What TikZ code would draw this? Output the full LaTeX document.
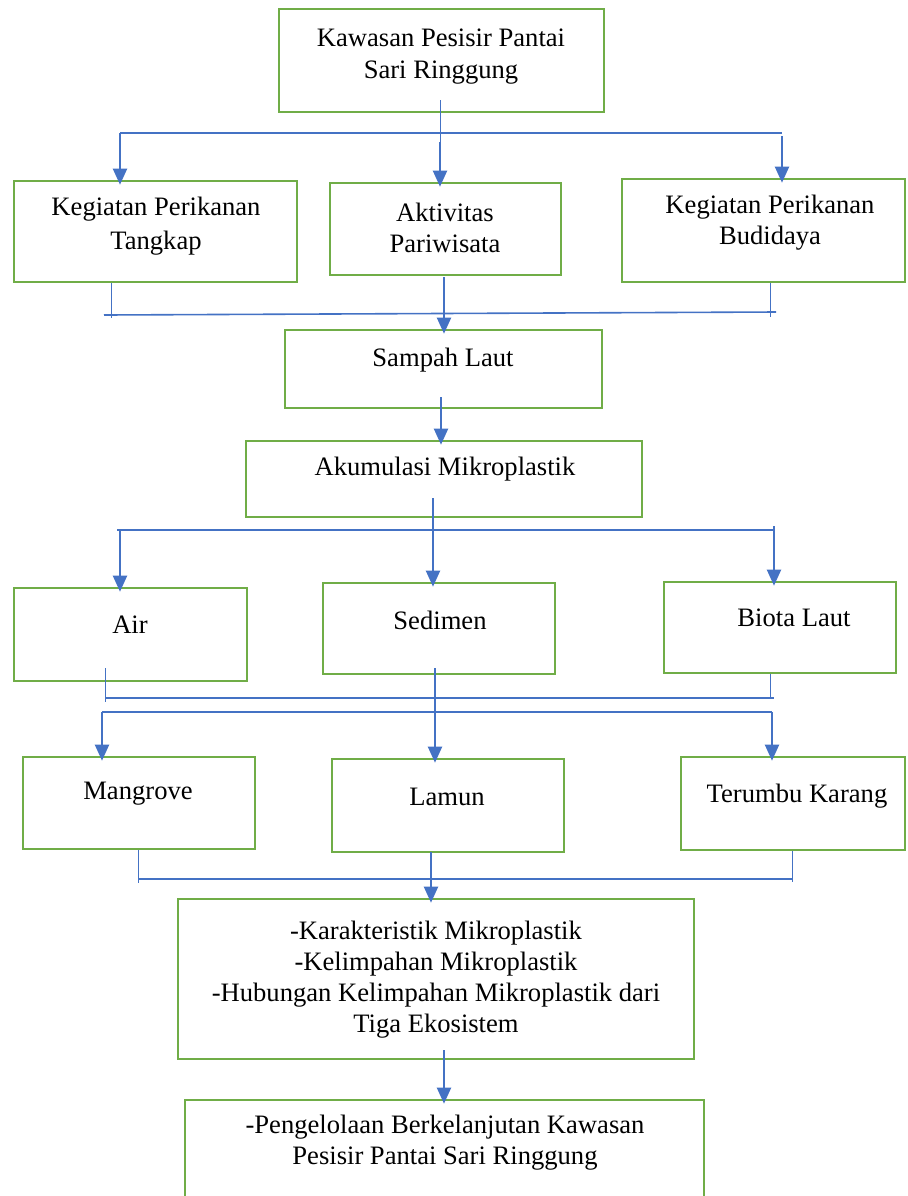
\documentclass[tikz,border=0pt]{standalone}
\usepackage{fontspec}
\setmainfont{Liberation Serif}
\usetikzlibrary{arrows.meta,fit}
\definecolor{boxgreen}{HTML}{70AD47}
\definecolor{lineblue}{HTML}{4472C4}
\newcommand\mybox[5]{\coordinate (#1-tl) at (#2,#3); \coordinate (#1-br) at (#4,#5); \node[box,fit=(#1-tl)(#1-br)] (#1) {};}
\begin{document}
\begin{tikzpicture}[x=0.5pt,y=-0.5pt,
  box/.style={draw=boxgreen,line width=1.3pt,inner sep=0pt},
  txt/.style={font=\fontsize{13.3}{15.5}\selectfont,align=center,inner sep=0pt},
  thinl/.style={draw=lineblue,line width=0.5pt},
  midl/.style={draw=lineblue,line width=0.8pt},
  arr/.style={draw=lineblue,line width=1pt,-{Triangle[width=7pt,length=8pt]},shorten >=-2.5pt}]
\useasboundingbox (0,0) rectangle (907,1196);
\clip (0,0) rectangle (907,1196);
% boxes
\mybox{top}{279}{9}{604}{112}
\mybox{tangkap}{14}{181}{297}{282}
\mybox{aktiv}{330}{183}{561}{275}
\mybox{budi}{622}{179}{905}{282}
\mybox{sampah}{285}{330}{602}{408}
\mybox{akum}{246}{441}{642}{517}
\mybox{air}{14}{588}{247}{681}
\mybox{sedimen}{323}{583}{555}{674}
\mybox{biota}{664}{582}{896}{673}
\mybox{mangrove}{23}{757}{255}{849}
\mybox{lamun}{332}{759}{564}{852}
\mybox{terumbu}{681}{757}{905}{850}
\mybox{karak}{178}{899}{694}{1059}
\mybox{kelola}{185}{1100}{704}{1215}
% texts
\node[txt,font=\fontsize{13.3}{16}\selectfont] (ttop) at (441,57) {Kawasan Pesisir Pantai\\Sari Ringgung};
\node[txt,font=\fontsize{13.3}{17}\selectfont] (ttangkap) at (156,226) {Kegiatan Perikanan\\Tangkap};
\node[txt] (taktiv) at (445,228) {Aktivitas\\Pariwisata};
\node[txt] (tbudi) at (770,223) {Kegiatan Perikanan\\Budidaya};
\node[txt] (tsampah) at (443,360) {Sampah Laut};
\node[txt] (takum) at (445,469) {Akumulasi Mikroplastik};
\node[txt] (tair) at (130,625) {Air};
\node[txt] (tsedimen) at (440,620) {Sedimen};
\node[txt] (tbiota) at (794,618) {Biota Laut};
\node[txt] (tmangrove) at (138,794) {Mangrove};
\node[txt] (tlamun) at (447,797) {Lamun};
\node[txt] (tterumbu) at (797,796) {Terumbu Karang};
\node[txt] (tkarak) at (436,980) {-Karakteristik Mikroplastik\\-Kelimpahan Mikroplastik\\-Hubungan Kelimpahan Mikroplastik dari\\Tiga Ekosistem};
\node[txt] (tkelola) at (445,1143) {-Pengelolaan Berkelanjutan Kawasan\\Pesisir Pantai Sari Ringgung};
% level 1 connectors
\coordinate (a1) at (440,100);
\coordinate (a2) at (440,142);
\coordinate (h1l) at (120,133);
\coordinate (h1r) at (782,133);
\coordinate (h1r2) at (782,136);
\draw[thinl] (a1) -- (a2);
\draw[midl] (h1l) -- (h1r);
\draw[arr] (a2) -- (a2 |- aktiv.north);
\draw[arr] (h1l) -- (h1l |- tangkap.north);
\draw[arr] (h1r2) -- (h1r2 |- budi.north);
% level 2
\coordinate (b1) at (111,318);
\coordinate (b2) at (770,317);
\coordinate (h2l) at (104,315);
\coordinate (h2r) at (776,312);
\coordinate (b3) at (444,277);
\draw[thinl] (b1 |- tangkap.south) -- (b1);
\draw[thinl] (b2 |- budi.south) -- (b2);
\draw[midl] (h2l) -- (h2r);
\draw[arr] (b3) -- (b3 |- sampah.north);
% sampah -> akum
\coordinate (c1) at (441,397);
\draw[arr] (c1) -- (c1 |- akum.north);
% akum -> level 3
\coordinate (d1) at (433,498);
\coordinate (h3l) at (117,530);
\coordinate (h3r) at (775,530);
\coordinate (d2) at (120,530);
\coordinate (d3) at (774,526);
\draw[midl] (h3l) -- (h3r);
\draw[arr] (d1) -- (d1 |- sedimen.north);
\draw[arr] (d2) -- (d2 |- air.north);
\draw[arr] (d3) -- (d3 |- biota.north);
% level 3 -> level 4
\coordinate (e1) at (105,668);
\coordinate (e1b) at (105,702);
\coordinate (e2) at (770,697);
\coordinate (h4l) at (105,698);
\coordinate (h4r) at (774,698);
\coordinate (h5l) at (102,712);
\coordinate (h5r) at (772,712);
\coordinate (e3) at (435,668);
\draw[thinl] (e1) -- (e1b);
\draw[thinl] (e2 |- biota.south) -- (e2);
\draw[midl] (h4l) -- (h4r);
\draw[midl] (h5l) -- (h5r);
\draw[arr] (h5l) -- (h5l |- mangrove.north);
\draw[arr] (h5r) -- (h5r |- terumbu.north);
\draw[arr] (e3) -- (e3 |- lamun.north);
% level 4 -> karak
\coordinate (f1) at (138,883);
\coordinate (f2) at (792,882);
\coordinate (h6l) at (138,879);
\coordinate (h6r) at (792,879);
\coordinate (f3) at (431,852);
\draw[thinl] (f1 |- mangrove.south) -- (f1);
\draw[thinl] (f2 |- terumbu.south) -- (f2);
\draw[midl] (h6l) -- (h6r);
\draw[arr] (f3) -- (f3 |- karak.north);
% karak -> kelola
\coordinate (g1) at (444,1050);
\draw[arr] (g1) -- (g1 |- kelola.north);
\end{tikzpicture}
\end{document}
